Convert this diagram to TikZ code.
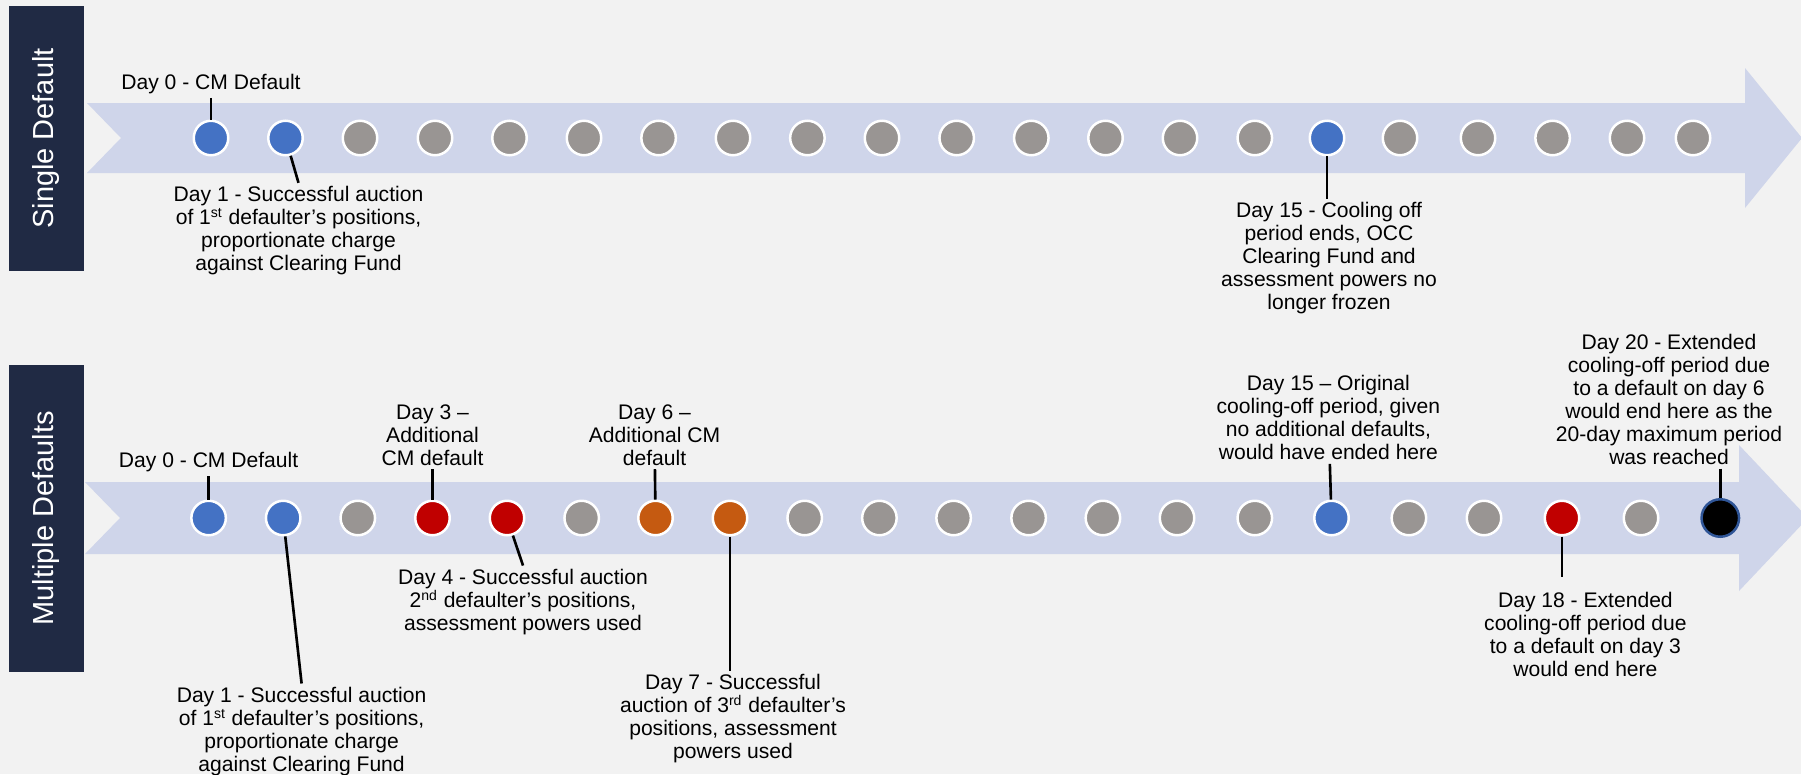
\documentclass[tikz,border=0pt]{standalone}
\usepackage{fontspec}
\setmainfont{Liberation Sans}
\usetikzlibrary{positioning}

\definecolor{bgGrey}{RGB}{242,242,242}
\definecolor{bandBlue}{RGB}{207,213,234}
\definecolor{navy}{RGB}{32,42,68}
\definecolor{dayGrey}{RGB}{153,149,147}
\definecolor{dayBlue}{RGB}{68,114,196}
\definecolor{dayRed}{RGB}{192,0,0}
\definecolor{dayOrange}{RGB}{197,90,17}
\definecolor{ringBlue}{RGB}{47,85,151}

\begin{document}
\begin{tikzpicture}[
    x=0.02cm, y=-0.02cm,
    font=\fontsize{12}{13.1}\selectfont,
    day/.style={circle, minimum size=0.69cm, inner sep=0pt, draw=white, line width=0.05cm, fill=dayGrey},
    note/.style={align=center, inner sep=0.07cm},
    panel/.style={rectangle, rotate=90, fill=navy, text=white, inner sep=0pt, font=\fontsize{16.5}{20}\selectfont},
    leader/.style={line width=1.5pt, black}
]

\useasboundingbox (0,0) rectangle (1801,774);
\fill[bgGrey] (0,0) rectangle (1801,774);

\node (single) [panel, minimum width=5.3cm, minimum height=1.5cm] at (46.5,138.5) {Single Default};
\node (multiple) [panel, minimum width=6.14cm, minimum height=1.5cm] at (46.5,518.5) {Multiple Defaults};

\fill[bandBlue] (87,103) -- (1745,103) -- (1745,68) -- (1802,138) -- (1745,208) -- (1745,173) -- (87,173) -- (121,138) -- cycle;
\fill[bandBlue] (85,482) -- (1739,482) -- (1739,445) -- (1808,518) -- (1739,591) -- (1739,554) -- (85,554) -- (120,518) -- cycle;

\foreach \x/\c [count=\i from 0] in {211/dayBlue,285.5/dayBlue,360/dayGrey,435/dayGrey,509.5/dayGrey,584/dayGrey,658.6/dayGrey,733/dayGrey,807.4/dayGrey,882/dayGrey,956.7/dayGrey,1031.3/dayGrey,1105.5/dayGrey,1180/dayGrey,1254.8/dayGrey,1327/dayBlue,1400/dayGrey,1478/dayGrey,1552.6/dayGrey,1627/dayGrey,1693/dayGrey}
    \node (s\i) [day, fill=\c] at (\x,138) {};

\foreach \x/\c [count=\i from 0] in {208.6/dayBlue,283.2/dayBlue,357.8/dayGrey,432.5/dayRed,507/dayRed,581.7/dayGrey,655.5/dayOrange,730/dayOrange,804.7/dayGrey,879.4/dayGrey,953.6/dayGrey,1028.6/dayGrey,1102.9/dayGrey,1177/dayGrey,1254.8/dayGrey,1331.5/dayBlue,1408.9/dayGrey,1484/dayGrey,1562/dayRed,1641/dayGrey}
    \node (m\i) [day, fill=\c] at (\x,518) {};
\node (m20) [day, fill=black, draw=ringBlue, minimum size=0.75cm] at (1720.3,518) {};

\node (sl0) [note] at (211,84.2) {Day 0 - CM Default};
\node (sl1) [note] at (298.5,231) {Day 1 - Successful auction\\of 1\textsuperscript{st} defaulter’s positions,\\proportionate charge\\against Clearing Fund};
\node (sl15) [note] at (1329,258.3) {Day 15 - Cooling off\\period ends, OCC\\Clearing Fund and\\assessment powers no\\longer frozen};

\node (ml0) [note] at (208.6,462.5) {Day 0 - CM Default};
\node (ml3) [note] at (432.5,434.9) {Day 3 --\\Additional\\CM default};
\node (ml6) [note] at (654.5,434.9) {Day 6 --\\Additional CM\\default};
\node (ml15) [note] at (1328.4,417.8) {Day 15 -- Original\\cooling-off period, given\\no additional defaults,\\would have ended here};
\node (ml20) [note] at (1669,399.5) {Day 20 - Extended\\cooling-off period due\\to a default on day 6\\would end here as the\\20-day maximum period\\was reached};
\node (ml1) [note] at (301.6,731.7) {Day 1 - Successful auction\\of 1\textsuperscript{st} defaulter’s positions,\\proportionate charge\\against Clearing Fund};
\node (ml4) [note] at (523,602.2) {Day 4 - Successful auction\\2\textsuperscript{nd} defaulter’s positions,\\assessment powers used};
\node (ml7) [note] at (733,718.7) {Day 7 - Successful\\auction of 3\textsuperscript{rd} defaulter’s\\positions, assessment\\powers used};
\node (ml18) [note] at (1585.4,634) {Day 18 - Extended\\cooling-off period due\\to a default on day 3\\would end here};

\draw [leader] (sl0) -- (s0);
\draw [leader] (s1) -- (sl1.north);
\draw [leader] (s15) -- (s15 |- sl15.north);

\draw [leader] (ml0) -- (m0);
\draw [leader] (ml3) -- (m3);
\draw [leader] (ml6) -- (m6);
\draw [leader] (ml15) -- (m15);
\draw [leader] (m20 |- ml20.south) -- (m20);
\draw [leader] (m1) -- (ml1.north);
\draw [leader] (m4) -- (ml4.north);
\draw [leader] (m7) -- (m7 |- ml7.north);
\draw [leader, shorten >=6pt] (m18) -- (m18 |- ml18.north);

\end{tikzpicture}
\end{document}
